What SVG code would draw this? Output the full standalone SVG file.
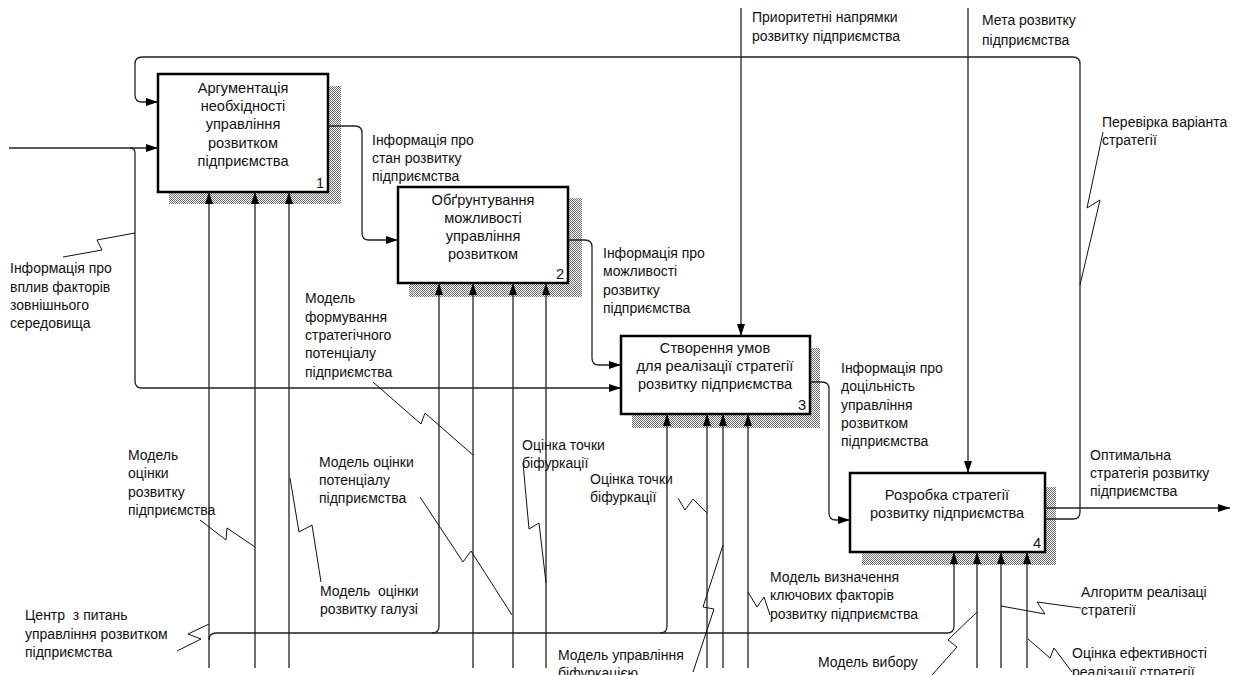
<svg xmlns="http://www.w3.org/2000/svg" width="1244" height="675" viewBox="0 0 1244 675">
<defs>
<pattern id="hatch" width="2" height="2" patternUnits="userSpaceOnUse">
<rect width="2" height="2" fill="#ffffff"/>
<rect x="0" y="0" width="1" height="1" fill="#6e6e6e"/>
<rect x="1" y="1" width="1" height="1" fill="#6e6e6e"/>
</pattern>
<marker id="arr" markerUnits="userSpaceOnUse" markerWidth="13" markerHeight="10" refX="12" refY="5" orient="auto">
<path d="M0,1 L12,5 L0,9 z" fill="#000"/>
</marker>
<style>
.box{fill:#fff;stroke:#000;stroke-width:2.5}
.shd{fill:url(#hatch)}
.bt{font-family:"Liberation Sans",Arial,sans-serif;font-size:14.6px;fill:#111;text-anchor:middle}
.num{font-family:"Liberation Sans",Arial,sans-serif;font-size:14.6px;fill:#111;text-anchor:end}
.lb{font-family:"Liberation Sans",Arial,sans-serif;font-size:14px;fill:#111}
.ln{fill:none;stroke:#222;stroke-width:1.3}
.ar{fill:none;stroke:#222;stroke-width:1.3;marker-end:url(#arr)}
.sq{fill:none;stroke:#111;stroke-width:1}
</style>
</defs>
<rect width="1244" height="675" fill="#fff"/>

<g id="node1">
<rect class="shd" x="169" y="86" width="172" height="118"/>
<rect class="box" x="158" y="74" width="170" height="118"/>
<text class="bt" x="243" y="93">Аргументація</text>
<text class="bt" x="243" y="111">необхідності</text>
<text class="bt" x="243" y="129">управління</text>
<text class="bt" x="243" y="148">розвитком</text>
<text class="bt" x="243" y="166">підприємства</text>
<text class="num" x="324" y="188">1</text>
</g>

<g id="node2">
<rect class="shd" x="409" y="198" width="173" height="99"/>
<rect class="box" x="398" y="187" width="170" height="96"/>
<text class="bt" x="483" y="205">Обґрунтування</text>
<text class="bt" x="483" y="223">можливості</text>
<text class="bt" x="483" y="241">управління</text>
<text class="bt" x="483" y="259">розвитком</text>
<text class="num" x="564" y="279">2</text>
</g>

<g id="node3">
<rect class="shd" x="632" y="348" width="188" height="80"/>
<rect class="box" x="621" y="336" width="189" height="78"/>
<text class="bt" x="715" y="353">Створення умов</text>
<text class="bt" x="715" y="371">для реалізації стратегії</text>
<text class="bt" x="715" y="389">розвитку підприємства</text>
<text class="num" x="806" y="410">3</text>
</g>

<g id="node4">
<rect class="shd" x="862" y="487" width="194" height="78"/>
<rect class="box" x="850" y="473" width="195" height="79"/>
<text class="bt" x="947" y="500">Розробка стратегії</text>
<text class="bt" x="947" y="518">розвитку підприємства</text>
<text class="num" x="1041" y="548">4</text>
</g>

<g id="connectors">
<path class="ar" d="M1045,519 H1073 Q1080,519 1080,512 V64 Q1080,57 1073,57 H142 Q135,57 135,64 V95 Q135,102 142,102 H158"/>
<path class="ar" d="M1045,508 H1230"/>
<path class="ar" d="M9,148 H158"/>
<path class="ar" d="M130,148 Q135,148 135,153 V381 Q135,388 142,388 H621"/>
<path class="ar" d="M328,126 H355 Q362,126 362,133 V233 Q362,240 369,240 H398"/>
<path class="ar" d="M568,240 H585 Q592,240 592,247 V358 Q592,365 599,365 H621"/>
<path class="ar" d="M810,382 H822 Q829,382 829,389 V513 Q829,520 836,520 H850"/>
<path class="ar" d="M741,8 V336"/>
<path class="ar" d="M968,8 V473"/>
<path class="ar" d="M209,668 V192"/>
<path class="ar" d="M209,640 Q209,633 216,633 H947 Q954,633 954,626 V552"/>
<path class="ar" d="M432,633 Q439,633 439,626 V283"/>
<path class="ar" d="M660,633 Q667,633 667,626 V414"/>
<path class="ar" d="M255,668 V192"/>
<path class="ar" d="M289,668 V192"/>
<path class="ar" d="M473,668 V283"/>
<path class="ar" d="M513,668 V283"/>
<path class="ar" d="M546,668 V283"/>
<path class="ar" d="M707,668 V414"/>
<path class="ar" d="M723,668 V414"/>
<path class="ar" d="M748,668 V414"/>
<path class="ar" d="M977,668 V552"/>
<path class="ar" d="M1001,668 V552"/>
<path class="ar" d="M1027,668 V552"/>
<path class="sq" d="M135,233 L97,240 L102,250 L63,257"/>
<path class="sq" d="M1103,132 L1087,208 L1100,200 L1080,285"/>
<path class="sq" d="M200,520 L226,540 L227,528 L255,547"/>
<path class="sq" d="M290,478 L299,532 L312,525 L321,582"/>
<path class="sq" d="M373,382 L421,424 L425,413 L473,455"/>
<path class="sq" d="M420,497 L463,562 L471,551 L512,615"/>
<path class="sq" d="M523,463 L529,529 L539,523 L546,583"/>
<path class="sq" d="M678,498 L685,510 L693,499 L707,513"/>
<path class="sq" d="M693,672 L714,609 L703,607 L723,545"/>
<path class="sq" d="M748,592 L757,607 L764,597 L770,615"/>
<path class="sq" d="M932,675 L957,647 L948,640 L977,612"/>
<path class="sq" d="M1001,606 L1045,614 L1037,602 L1081,608"/>
<path class="sq" d="M1028,639 L1050,658 L1054,648 L1072,672"/>
<path class="sq" d="M209,624 L188,634 L201,639 L177,651"/>
</g>

<g id="labels">
<text class="lb" x="372" y="145">Інформація про</text>
<text class="lb" x="372" y="163">стан розвитку</text>
<text class="lb" x="372" y="181">підприємства</text>

<text class="lb" x="603" y="258">Інформація про</text>
<text class="lb" x="603" y="276">можливості</text>
<text class="lb" x="603" y="295">розвитку</text>
<text class="lb" x="603" y="313">підприємства</text>

<text class="lb" x="841" y="373">Інформація про</text>
<text class="lb" x="841" y="391">доцільність</text>
<text class="lb" x="841" y="410">управління</text>
<text class="lb" x="841" y="428">розвитком</text>
<text class="lb" x="841" y="446">підприємства</text>

<text class="lb" x="1090" y="460">Оптимальна</text>
<text class="lb" x="1090" y="478">стратегія розвитку</text>
<text class="lb" x="1090" y="496">підприємства</text>

<text class="lb" x="1102" y="127">Перевірка варіанта</text>
<text class="lb" x="1102" y="145">стратегії</text>

<text class="lb" x="752" y="22">Приоритетні напрямки</text>
<text class="lb" x="752" y="41">розвитку підприємства</text>

<text class="lb" x="982" y="25">Мета розвитку</text>
<text class="lb" x="982" y="45">підприємства</text>

<text class="lb" x="10" y="273">Інформація про</text>
<text class="lb" x="10" y="292">вплив факторів</text>
<text class="lb" x="10" y="310">зовнішнього</text>
<text class="lb" x="10" y="328">середовища</text>

<text class="lb" x="305" y="303">Модель</text>
<text class="lb" x="305" y="322">формування</text>
<text class="lb" x="305" y="340">стратегічного</text>
<text class="lb" x="305" y="358">потенціалу</text>
<text class="lb" x="305" y="377">підприємства</text>

<text class="lb" x="128" y="460">Модель</text>
<text class="lb" x="128" y="478">оцінки</text>
<text class="lb" x="128" y="497">розвитку</text>
<text class="lb" x="128" y="515">підприємства</text>

<text class="lb" x="319" y="467">Модель оцінки</text>
<text class="lb" x="319" y="485">потенціалу</text>
<text class="lb" x="319" y="503">підприємства</text>

<text class="lb" x="320" y="596" xml:space="preserve">Модель  оцінки</text>
<text class="lb" x="320" y="614">розвитку галузі</text>

<text class="lb" x="25" y="620" xml:space="preserve">Центр  з питань</text>
<text class="lb" x="25" y="639">управління розвитком</text>
<text class="lb" x="25" y="657">підприємства</text>

<text class="lb" x="522" y="450">Оцінка точки</text>
<text class="lb" x="522" y="468">біфуркації</text>

<text class="lb" x="590" y="484">Оцінка точки</text>
<text class="lb" x="590" y="502">біфуркації</text>

<text class="lb" x="558" y="660">Модель управління</text>
<text class="lb" x="558" y="678">біфуркацією</text>

<text class="lb" x="770" y="582">Модель визначення</text>
<text class="lb" x="770" y="600">ключових факторів</text>
<text class="lb" x="770" y="619">розвитку підприємства</text>

<text class="lb" x="818" y="667">Модель вибору</text>

<text class="lb" x="1081" y="597">Алгоритм реалізаці</text>
<text class="lb" x="1081" y="615">стратегії</text>

<text class="lb" x="1072" y="658">Оцінка ефективності</text>
<text class="lb" x="1072" y="677">реалізації стратегії</text>
</g>
</svg>
